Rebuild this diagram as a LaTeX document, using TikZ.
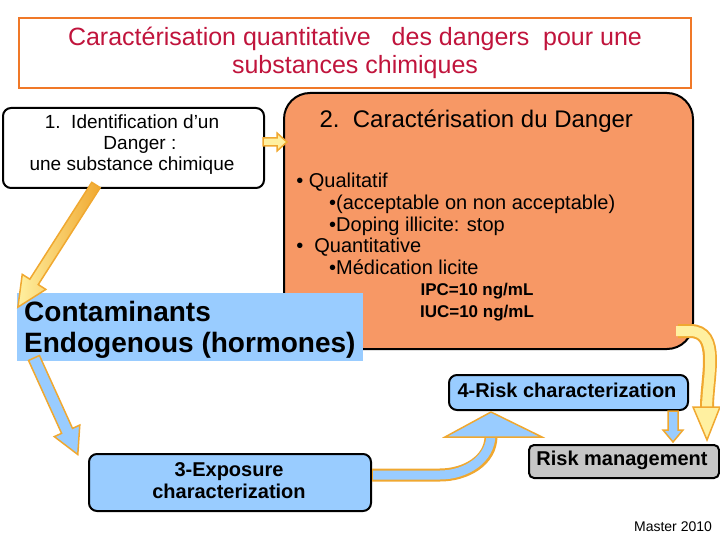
\documentclass[tikz,border=0pt]{standalone}
\usepackage{fontspec}
\setmainfont{Liberation Sans}
\definecolor{tred}{HTML}{C0143C}
\definecolor{tor}{HTML}{F07828}
\definecolor{salmon}{HTML}{F79865}
\definecolor{lblue}{HTML}{99CCFF}
\definecolor{arrorange}{HTML}{F0A830}
\definecolor{lyellow}{HTML}{FFF0A0}
\tikzset{
 rbox/.style={draw=black,line width=2pt,rounded corners=8pt},
 aline/.style={draw=arrorange,line width=1.5pt,line join=miter},
}
\newcommand{\blockarrow}[4]{% length, half shaft, head len, half head
 (0,-#2) -- ({#1-#3},-#2) -- ({#1-#3},-#4) -- (#1,0) -- ({#1-#3},#4) -- ({#1-#3},#2) -- (0,#2) -- cycle}
\begin{document}
\begin{tikzpicture}[x=1pt,y=-1pt]
\useasboundingbox (0,0) rectangle (720,540);
\node[draw=tor,line width=2pt,minimum width=672pt,minimum height=70pt,anchor=north west,align=center,text=tred,font=\fontsize{25}{28}\selectfont] (title) at (18,17) {Caractérisation quantitative \ \ des dangers \ pour une\\substances chimiques};
\node[rbox,fill=salmon,rounded corners=26pt,minimum width=409pt,minimum height=256pt,anchor=north west] (dang) at (283,92) {};
\node[font=\fontsize{24}{26}\selectfont,anchor=west] (dt) at (316,121) {2.\ \ Caractérisation du Danger};
\node[font=\fontsize{20}{21.75}\selectfont,anchor=north west,align=left,inner sep=0pt] (dl) at (285,173) {\ \ • Qualitatif\\\hspace{44pt}•(acceptable on non acceptable)\\\hspace{44pt}•Doping illicite: stop\\\ \ • \ Quantitative\\\hspace{44pt}•Médication licite};
\node[font=\bfseries\fontsize{17}{22}\selectfont,align=center] (ipc) at (477,302) {IPC=10 ng/mL\\IUC=10 ng/mL};
\node[rbox,fill=white,minimum width=261pt,minimum height=80pt,anchor=north west] (b1) at (2,107) {};
\node[font=\fontsize{19}{21}\selectfont,align=center] (b1t) at (132,145) {1.\ \ Identification d’un\\\ \ \ Danger :\\une substance chimique};
\node[fill=lblue,minimum width=346pt,minimum height=68pt,anchor=north west] (cont) at (17,293) {};
\node[font=\bfseries\fontsize{28}{31}\selectfont,align=left,anchor=west,inner sep=0pt] (contt) at (24,330) {Contaminants\\Endogenous (hormones)};
\node[rbox,fill=lblue,minimum width=282pt,minimum height=57pt,anchor=north west] (exp) at (88,453) {};
\node[font=\bfseries\fontsize{20}{22}\selectfont,align=center] (expt) at (229,481) {3-Exposure\\characterization};
\node[rbox,fill=lblue,minimum width=239pt,minimum height=35pt,anchor=north west] (risk) at (448,374) {};
\node[font=\bfseries\fontsize{20}{22}\selectfont] (riskt) at (567,390) {4-Risk characterization};
\node[rbox,fill=gray!45,rounded corners=5pt,minimum width=190pt,minimum height=33pt,anchor=north west] (mgmt) at (528,444) {};
\node[font=\bfseries\fontsize{20}{22}\selectfont] (mgmtt) at (622,460) {Risk management};
\node[font=\fontsize{14}{16}\selectfont] (master) at (673,527) {Master 2010};
% straight block arrows
\begin{scope}[shift={(96,185)},rotate=237.4]
 \shade[left color=lyellow,right color=arrorange] \blockarrow{145}{5}{30}{14};
 \draw[aline] \blockarrow{145}{5}{30}{14};
\end{scope}
\begin{scope}[shift={(34,358)},rotate=-65.6]
 \filldraw[aline,fill=lblue] \blockarrow{106}{6}{26}{14};
\end{scope}
\begin{scope}[shift={(263,142)}]
 \filldraw[aline,fill=lyellow] \blockarrow{24}{4}{10}{9};
\end{scope}
\begin{scope}[shift={(673,411)},rotate=-90]
 \filldraw[aline,fill=lblue] \blockarrow{31}{5}{12}{10};
\end{scope}
% curved arrows
\draw[arrorange,line width=13pt] (372,475) -- (440,475) to[out=0,in=-90] (491,436);
\draw[lblue,line width=9pt] (373,475) -- (440,475) to[out=0,in=-90] (491,434);
\draw[aline,fill=lblue] (445,437) -- (542,437) -- (491,412) -- cycle;
\draw[arrorange,line width=14pt] (678,331) -- (690,331) to[out=0,in=90] (707,407);
\draw[lyellow,line width=10pt] (676,331) -- (690,331) to[out=0,in=90] (707,409);
\draw[aline,fill=lyellow] (693,407) -- (720,407) -- (707,440) -- cycle;
\end{tikzpicture}
\end{document}
